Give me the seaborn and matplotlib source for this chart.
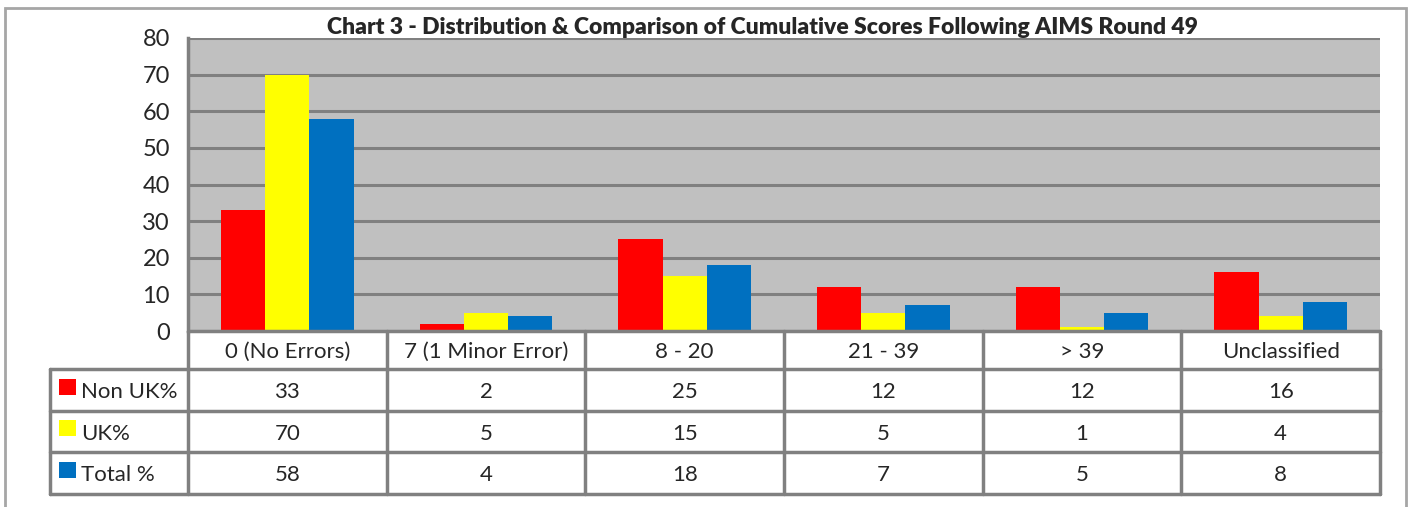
import pandas as pd
import seaborn as sns
import matplotlib.pyplot as plt
from matplotlib.patches import Rectangle
from matplotlib.transforms import blended_transform_factory

categories = ['0 (No Errors)', '7 (1 Minor Error)', '8 - 20', '21 - 39', '> 39', 'Unclassified']
series_names = ['Non UK%', 'UK%', 'Total %']
non_uk = [33, 2, 25, 12, 12, 16]
uk = [70, 5, 15, 5, 1, 4]
total = [58, 4, 18, 7, 5, 8]
colors = ['#FF0000', '#FFFF00', '#0070C0']

W, H = 1413, 507


def main():
    sns.set_style('white')
    plt.rcParams['font.family'] = ['Lato', 'DejaVu Sans']

    rows = []
    for name, vals in zip(series_names, [non_uk, uk, total]):
        for c, v in zip(categories, vals):
            rows.append({'category': c, 'series': name, 'value': v})
    df = pd.DataFrame(rows)

    fig = plt.figure(figsize=(W / 100, H / 100), dpi=100)
    # outer chart border
    fig.add_artist(Rectangle((5 / W, -0.05), 1401 / W, 1.05 - 8 / H, transform=fig.transFigure,
                             fill=False, edgecolor='#A6A6A6', linewidth=2))

    left, right, top, bottom = 188, 1380, 38, 331
    ax = fig.add_axes([left / W, (H - bottom) / H, (right - left) / W, (bottom - top) / H])
    ax.set_facecolor('#C0C0C0')

    sns.barplot(data=df, x='category', y='value', hue='series', palette=colors,
                width=0.667, saturation=1, linewidth=0, edgecolor='none', ax=ax, legend=False)

    ax.set_ylim(0, 80)
    ax.set_xlim(-0.5, len(categories) - 0.5)
    ax.set_yticks(range(0, 81, 10))
    ax.yaxis.grid(True, color='#808080', linewidth=2.2)
    ax.set_axisbelow(True)
    ax.set_xticks([])
    ax.set_xlabel('')
    ax.set_ylabel('')
    for s in ['top', 'right', 'bottom']:
        ax.spines[s].set_visible(False)
    ax.spines['left'].set_color('#808080')
    ax.spines['left'].set_linewidth(2.5)
    ax.tick_params(axis='y', length=7, width=2, color='#808080', labelsize=17, pad=6)

    fig.text(763 / W, 1 - 28 / H,
             'Chart 3 - Distribution & Comparison of Cumulative Scores Following AIMS Round 49',
             ha='center', va='center', fontsize=16.5, fontweight='heavy')

    # data table under the plot, x in data units, y in axes fraction
    trans = blended_transform_factory(ax.transData, ax.transAxes)
    yf = lambda py: (bottom - py) / (bottom - top)
    line_kw = dict(color='#808080', linewidth=2.5, transform=trans, clip_on=False)
    row_edges = [331, 369, 411, 452, 494]
    x0, x1 = -0.5, len(categories) - 0.5
    px = (right - left) / len(categories)
    xl = x0 - (left - 50) / px

    # horizontal lines
    ax.plot([x0, x1], [yf(row_edges[0])] * 2, **line_kw)
    for py in row_edges[1:]:
        ax.plot([xl, x1], [yf(py)] * 2, **line_kw)
    # vertical lines
    ax.plot([xl, xl], [yf(row_edges[1]), yf(row_edges[-1])], **line_kw)
    for i in range(len(categories) + 1):
        ax.plot([x0 + i, x0 + i], [yf(row_edges[0]), yf(row_edges[-1])], **line_kw)

    # header row
    ymid = yf((row_edges[0] + row_edges[1]) / 2 + 2)
    for i, c in enumerate(categories):
        ax.text(i, ymid, c, ha='center', va='center', fontsize=16, transform=trans)

    # data rows with legend keys
    for r, (name, vals, col) in enumerate(zip(series_names, [non_uk, uk, total], colors)):
        ymid = yf((row_edges[r + 1] + row_edges[r + 2]) / 2 + 2)
        ax.add_patch(Rectangle((x0 - (left - 59) / px, ymid - 0.01), 17 / px, 0.055,
                               facecolor=col, edgecolor='none', transform=trans, clip_on=False))
        ax.text(x0 - (left - 81) / px, ymid, name, ha='left', va='center', fontsize=16,
                transform=trans)
        for i, v in enumerate(vals):
            ax.text(i, ymid, str(v), ha='center', va='center', fontsize=16, transform=trans)

    fig.savefig('out.png', dpi=100)


if __name__ == "__main__":
    main()
